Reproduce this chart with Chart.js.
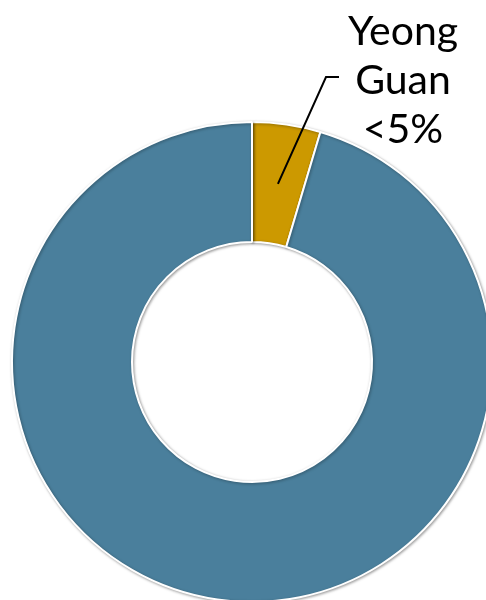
<!DOCTYPE html>
<html>
<head>
<meta charset="utf-8">
<script src="https://cdn.jsdelivr.net/npm/chart.js@4"></script>
<style>
  html, body { margin: 0; padding: 0; background: #fff; overflow: hidden; }
  body { width: 486px; height: 600px; position: relative; }
  #wrap { position: absolute; left: 0; top: 0; width: 500px; height: 610px; }
  #lbl { position: absolute; left: 333px; top: 5px; width: 140px; text-align: center;
         font-family: Lato, "Liberation Sans", sans-serif; font-size: 41px; line-height: 49px; color: #000; }
</style>
</head>
<body>
<div id="wrap"><canvas id="chart" width="500" height="610"></canvas></div>
<script>
// Data
const labels = ["Yeong Guan", "Other"];
const shares = [4.6, 95.4];
const colors = ["#CC9900", "#4A7F9C"];
const calloutLines = ["Yeong", "Guan", "<5%"];

// leader line from the centre of the first slice up to the label
const callout = {
  id: "callout",
  afterDraw(chart) {
    const ctx = chart.ctx;
    const p = chart.getDatasetMeta(0).data[0].tooltipPosition();
    ctx.save();
    ctx.strokeStyle = "#000";
    ctx.lineWidth = 2;
    ctx.beginPath();
    ctx.moveTo(p.x, p.y);
    ctx.lineTo(326, 77);
    ctx.lineTo(339, 77);
    ctx.stroke();
    ctx.restore();
  }
};

// soft shadow round the ring
const sh = {
  id: "sh",
  beforeDatasetsDraw(chart) {
    const ctx = chart.ctx;
    ctx.save();
    ctx.shadowColor = "rgba(0,0,0,0.35)";
    ctx.shadowBlur = 3;
    ctx.shadowOffsetX = 1;
    ctx.shadowOffsetY = 1;
  },
  afterDatasetsDraw(chart) {
    chart.ctx.restore();
  }
};

new Chart(document.getElementById("chart"), {
  type: "doughnut",
  data: {
    labels: labels,
    datasets: [{
      data: shares,
      backgroundColor: colors,
      borderColor: "#fff",
      borderWidth: 2
    }]
  },
  options: {
    responsive: false,
    animation: false,
    cutout: "50%",
    layout: { padding: { left: 11, top: 121, right: 7, bottom: 7 } },
    plugins: {
      legend: { display: false },
      tooltip: { enabled: false }
    }
  },
  plugins: [sh, callout]
});
</script>
<div id="lbl"></div>
<script>
document.getElementById("lbl").innerHTML = calloutLines
  .map(t => "<div>" + t.replace("<", "&lt;") + "</div>").join("");
</script>
</body>
</html>
